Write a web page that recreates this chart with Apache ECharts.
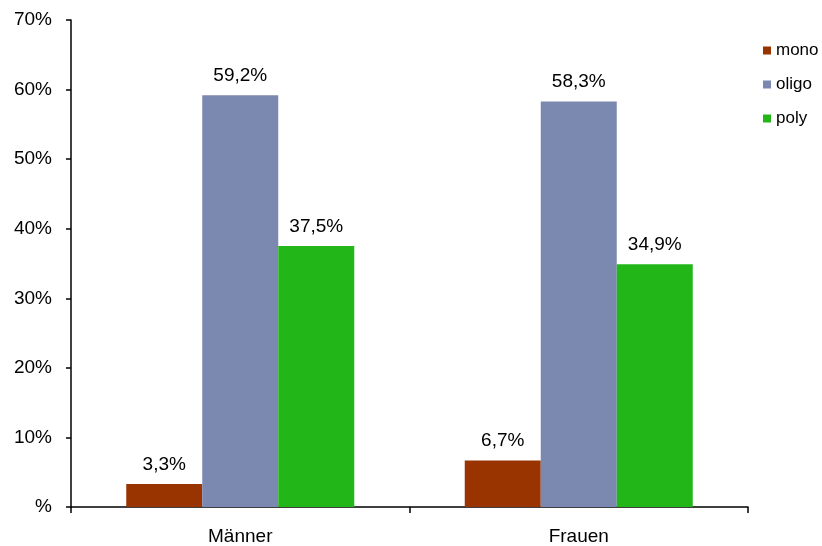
<!DOCTYPE html>
<html>
<head>
<meta charset="utf-8">
<script src="https://cdn.jsdelivr.net/npm/echarts@6/dist/echarts.min.js"></script>
<style>
html, body { margin: 0; padding: 0; background: #fff; }
#chart { width: 822px; height: 546px; }
</style>
</head>
<body>
<div id="chart"></div>
<script>
// Gruppen und Anteile (in %)
const categories = ['Männer', 'Frauen'];
const seriesNames = ['mono', 'oligo', 'poly'];
const mono = [3.3, 6.7];
const oligo = [59.2, 58.3];
const poly = [37.5, 34.9];
const colors = ['#993300', '#7b88b0', '#22b618'];

const fontFamily = 'Liberation Sans, Arial, sans-serif';
const fmtPct = v => v.toFixed(1).replace('.', ',') + '%';

const chart = echarts.init(document.getElementById('chart'));

function barSeries(name, data, color) {
  return {
    name: name,
    type: 'bar',
    data: data,
    barWidth: 76,
    barGap: '0%',
    itemStyle: { color: color },
    label: {
      show: true,
      position: 'top',
      distance: 10,
      color: '#000',
      fontFamily: fontFamily,
      fontSize: 19,
      formatter: p => fmtPct(p.value)
    }
  };
}

chart.setOption({
  animation: false,
  backgroundColor: '#fff',
  grid: { left: 71, right: 74, top: 20, bottom: 38 },
  legend: {
    orient: 'vertical',
    left: 763,
    top: 42,
    padding: 0,
    itemWidth: 8,
    itemHeight: 8,
    itemGap: 17,
    icon: 'rect',
    textStyle: { fontFamily: fontFamily, fontSize: 17, color: '#000' },
    data: seriesNames
  },
  xAxis: {
    type: 'category',
    data: categories,
    axisLine: { lineStyle: { color: '#000', width: 1.5 } },
    axisTick: { show: true, length: 6, inside: false, lineStyle: { color: '#000', width: 1.5 } },
    axisLabel: { color: '#000', fontFamily: fontFamily, fontSize: 19, margin: 20 }
  },
  yAxis: {
    type: 'value',
    min: 0,
    max: 70,
    interval: 10,
    splitLine: { show: false },
    axisLine: { show: true, lineStyle: { color: '#000', width: 1.5 } },
    axisTick: { show: true, length: 5, lineStyle: { color: '#000', width: 1.5 } },
    axisLabel: {
      color: '#000',
      fontFamily: fontFamily,
      fontSize: 19,
      margin: 19,
      formatter: v => (v === 0 ? '%' : v + '%')
    }
  },
  series: [
    barSeries(seriesNames[0], mono, colors[0]),
    barSeries(seriesNames[1], oligo, colors[1]),
    barSeries(seriesNames[2], poly, colors[2])
  ]
});
</script>
</body>
</html>
